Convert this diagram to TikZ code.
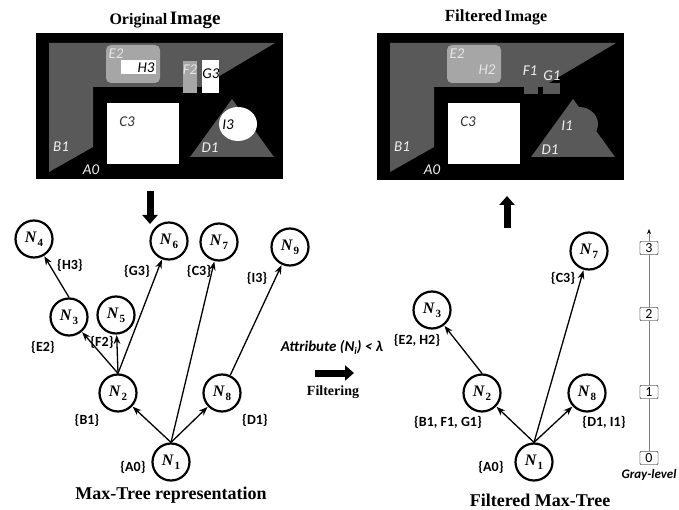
\documentclass[tikz,border=0pt]{standalone}
\usepackage{fontspec}
\setmainfont{Liberation Serif}
\newfontfamily\calibri{Carlito}
\usetikzlibrary{arrows.meta}

\definecolor{regdark}{RGB}{89,89,89}
\definecolor{reglight}{RGB}{166,166,166}
\newcommand{\nsub}[1]{\textbf{\textit{N}}\kern0.6pt\raisebox{-0.5ex}{\fontsize{11}{11}\selectfont\bfseries #1}}

\begin{document}
\begin{tikzpicture}[x=1pt,y=-1pt,>=Stealth,
  nd/.style={draw,circle,line width=2.2pt,minimum size=37pt,inner sep=0pt,font=\fontsize{16}{16}\selectfont},
  edge/.style={->,line width=1.3pt,shorten >=0.5pt},
  set/.style={font=\calibri\bfseries\fontsize{14}{14}\selectfont},
  reg/.style={font=\calibri\itshape\fontsize{15}{15}\selectfont},
  bigarrow/.style={line width=7pt,-{Triangle[width=15pt,length=9pt]}},
  lvl/.style={draw=black!80,fill=white,rounded corners=1pt,minimum width=18pt,minimum height=13pt,inner sep=0pt,font=\calibri\fontsize{14}{14}\selectfont}]
  \useasboundingbox (0,0) rectangle (679,510);

  % original image
  \node[font=\bfseries] at (165,20) {{\fontsize{16}{16}\selectfont Original} {\fontsize{19}{19}\selectfont Image}};
  \fill[black] (36,33) rectangle (283,179);
  \fill[regdark] (49,43) -- (275,43) -- (201,87) -- (93,87) -- (93,147) -- (49,172) -- cycle;
  \fill[reglight,rounded corners=5pt] (106,45) rectangle (160,83);
  \fill[white] (121,60) rectangle (156,74);
  \fill[reglight] (183,61) rectangle (197,93);
  \fill[white] (202,60) rectangle (219,93);
  \fill[white] (107,103) rectangle (179,164);
  \fill[regdark] (232,99) -- (274,157) -- (190,157) -- cycle;
  \fill[white] (238,124) ellipse [x radius=19pt,y radius=17pt];
  \node[reg,text=white!80!gray] at (116,54) {E2};
  \node[reg] at (146,68) {H3};
  \node[reg,text=white!80!gray] at (190,70) {F2};
  \node[reg] at (211,74) {G3};
  \node[reg,text=black!80] at (127,122) {C3};
  \node[reg] at (228,125) {I3};
  \node[reg,text=white!90!gray] at (210,148) {D1};
  \node[reg,text=white!90!gray] at (61,147) {B1};
  \node[reg,text=white!90!gray] at (91,170) {A0};

  % filtered image
  \node[font=\bfseries] at (496,17) {{\fontsize{17}{17}\selectfont Filtered} {\fontsize{16}{16}\selectfont Image}};
  \fill[black] (377,33) rectangle (624,180);
  \fill[regdark] (390,43) -- (616,43) -- (542,87) -- (434,87) -- (434,147) -- (390,172) -- cycle;
  \fill[reglight,rounded corners=5pt] (447,45) rectangle (501,83);
  \fill[regdark] (524,85) rectangle (538,94);
  \fill[regdark] (543,83) rectangle (560,94);
  \fill[white] (448,103) rectangle (520,164);
  \fill[regdark] (573,99) -- (615,157) -- (531,157) -- cycle;
  \fill[regdark] (579,124) ellipse [x radius=19pt,y radius=17pt];
  \node[reg,text=white!80!gray] at (457,54) {E2};
  \node[reg,text=white!80!gray] at (487,70) {H2};
  \node[reg,text=white!90!gray] at (530,71) {F1};
  \node[reg,text=white!90!gray] at (552,76) {G1};
  \node[reg,text=black!80] at (468,122) {C3};
  \node[reg,text=white!90!gray] at (567,126) {I1};
  \node[reg,text=white!90!gray] at (550,150) {D1};
  \node[reg,text=white!90!gray] at (402,147) {B1};
  \node[reg,text=white!90!gray] at (432,170) {A0};

  % max-tree
  \node[nd] (mN1) at (171,462) {\nsub{1}};
  \node[nd] (mN2) at (118,393) {\nsub{2}};
  \node[nd] (mN3) at (69,317) {\nsub{3}};
  \node[nd] (mN4) at (34,239) {\nsub{4}};
  \node[nd] (mN5) at (116,315) {\nsub{5}};
  \node[nd] (mN6) at (169,241) {\nsub{6}};
  \node[nd] (mN7) at (219,242) {\nsub{7}};
  \node[nd] (mN8) at (222,393) {\nsub{8}};
  \node[nd] (mN9) at (290,247) {\nsub{9}};
  \draw[edge] (mN1.north) -- (mN2);
  \draw[edge] (mN1.north) -- (mN7);
  \draw[edge] (mN1.north) -- (mN8);
  \draw[edge] (mN2.north) -- (mN3);
  \draw[edge] (mN2.north) -- (mN5);
  \draw[edge] (mN2.north) -- (mN6);
  \draw[edge] (mN3.north) -- (mN4);
  \draw[edge] (mN8) -- (mN9);
  \node[set] at (70,265) {\{H3\}};
  \node[set] at (137,271) {\{G3\}};
  \node[set] at (199,271) {\{C3\}};
  \node[set] at (257,278) {\{I3\}};
  \node[set] at (43,347) {\{E2\}};
  \node[set] at (102,342) {\{F2\}};
  \node[set] at (87,420) {\{B1\}};
  \node[set] at (255,420) {\{D1\}};
  \node[set] at (133,467) {\{A0\}};
  \node[font=\bfseries\fontsize{18}{18}\selectfont] at (171,495) {Max-Tree representation};
  \draw[bigarrow] (150,191) -- (150,224);

  % filtering step
  \node[font=\calibri\bfseries\itshape\fontsize{15}{15}\selectfont] at (332,347) {Attribute (\textit{N}\raisebox{-0.4ex}{\fontsize{10}{10}\selectfont\textit{i}}) < λ};
  \draw[bigarrow] (315,373) -- (354,373);
  \node[font=\bfseries\fontsize{14}{14}\selectfont] at (333,392) {Filtering};

  % filtered max-tree
  \node[nd] (fN1) at (534,462) {\nsub{1}};
  \node[nd] (fN2) at (482,393) {\nsub{2}};
  \node[nd] (fN3) at (432,310) {\nsub{3}};
  \node[nd] (fN7) at (589,251) {\nsub{7}};
  \node[nd] (fN8) at (587,393) {\nsub{8}};
  \draw[edge] (fN1.north) -- (fN2);
  \draw[edge] (fN1.north) -- (fN7);
  \draw[edge] (fN1.north) -- (fN8);
  \draw[edge] (fN2.north) -- (fN3);
  \node[set] at (563,278) {\{C3\}};
  \node[set] at (417,340) {\{E2, H2\}};
  \node[set] at (448,422) {\{B1, F1, G1\}};
  \node[set] at (604,422) {\{D1, I1\}};
  \node[set] at (491,467) {\{A0\}};
  \node[font=\bfseries\fontsize{18}{18}\selectfont] at (540,500) {Filtered Max-Tree};
  \draw[bigarrow] (507,228) -- (507,196);

  % gray-level axis
  \coordinate (axtop) at (649,229);
  \node[lvl] (lv0) at (649,458) {0};
  \node[lvl] (lv1) at (649,392) {1};
  \node[lvl] (lv2) at (649,314) {2};
  \node[lvl] (lv3) at (649,248) {3};
  \draw[gray,line width=0.8pt,-{Stealth[length=5pt,width=4pt,black]}] (lv0) -- (axtop);
  \foreach \v in {0,1,2,3} \node[lvl] at (lv\v) {\v};
  \node[font=\calibri\bfseries\itshape\fontsize{13}{13}\selectfont] at (649,475) {Gray-level};
\end{tikzpicture}
\end{document}
